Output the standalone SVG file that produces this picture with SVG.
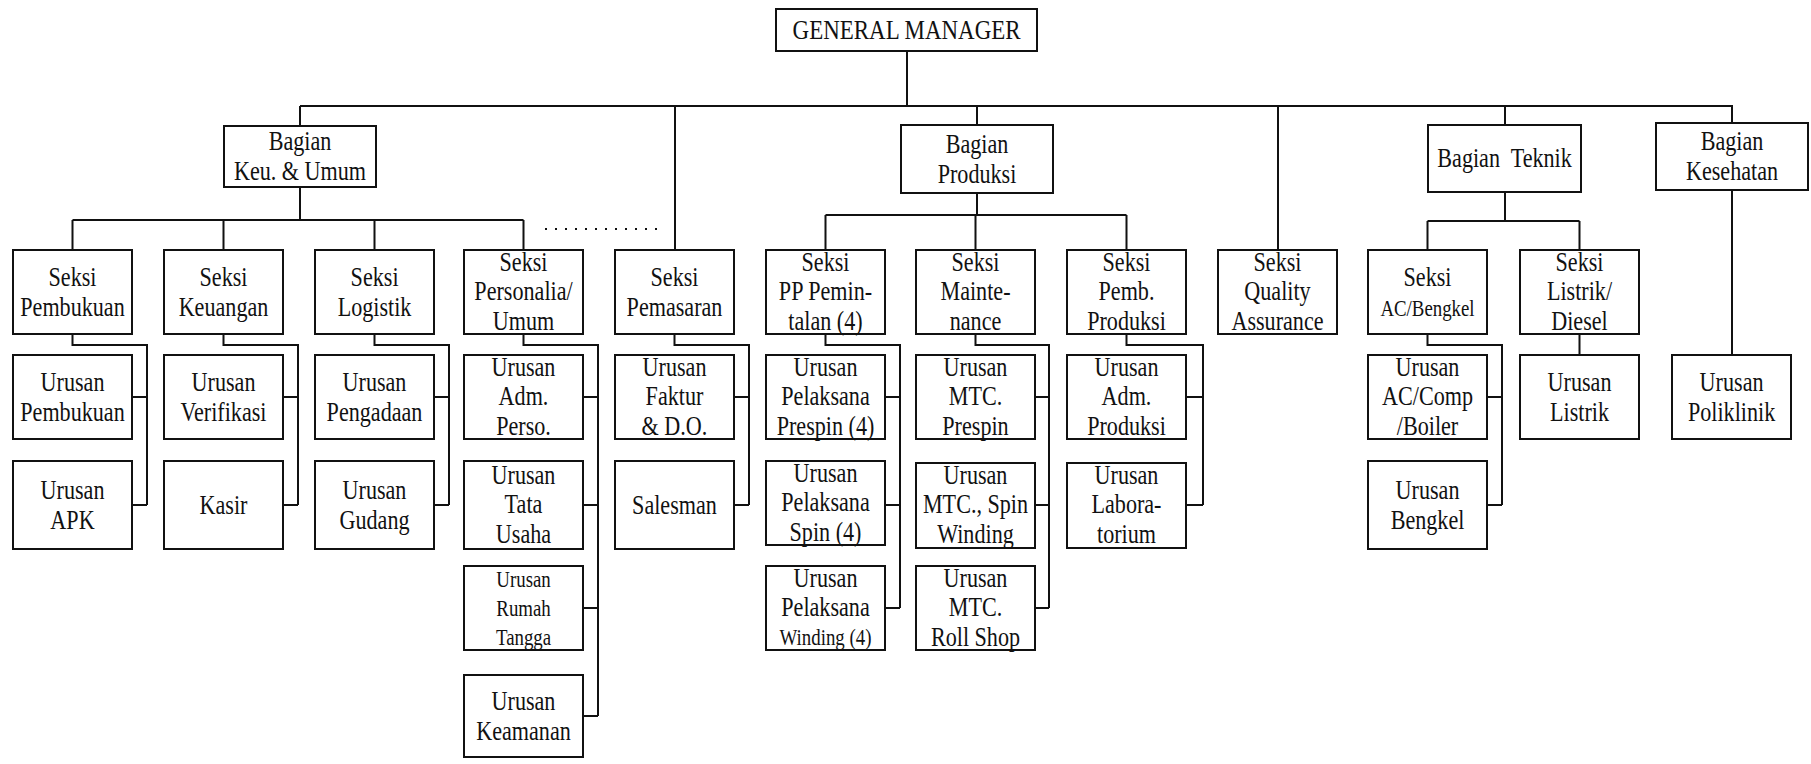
<svg xmlns="http://www.w3.org/2000/svg" width="1811" height="764" viewBox="0 0 1811 764">
<style>
  .box { fill: #fff; stroke: #111; stroke-width: 2; }
  .ln { fill: none; stroke: #111; stroke-width: 2; }
  .dot { fill: none; stroke: #111; stroke-width: 2; stroke-dasharray: 2 8; }
  .t { font-family: "Liberation Serif", "Times New Roman", serif; font-size: 27px; text-anchor: middle; fill: #111;
       transform-box: fill-box; transform-origin: center; transform: scaleX(0.82); }
  .s { font-size: 23px; }
  .big { font-size: 28px; }
</style>
<rect width="1811" height="764" fill="#fff"/>

<!-- connectors -->
<g id="connectors">
  <!-- general manager to bagian level -->
  <path class="ln" d="M907 51 V106 M300 106 H1733 M300 106 V126 M675 106 V250 M977 106 V125 M1278 106 V250 M1505 106 V125 M1732 106 V123"/>
  <!-- bagian keuangan & umum -->
  <path class="ln" d="M300 187 V220 M72.5 220 H523.5 M72.5 220 V250 M223.5 220 V250 M374.5 220 V250 M523.5 220 V250"/>
  <path class="dot" d="M545 229 H660"/>
  <!-- bagian produksi -->
  <path class="ln" d="M977 193 V215 M825.5 215 H1126.5 M825.5 215 V250 M975.5 215 V250 M1126.5 215 V250"/>
  <!-- bagian teknik -->
  <path class="ln" d="M1505 192 V221 M1427.5 221 H1579.5 M1427.5 221 V250 M1579.5 221 V250"/>
  <!-- bagian kesehatan / listrik direct links -->
  <path class="ln" d="M1732 190 V355 M1579.5 334 V355"/>
  <!-- seksi to urusan brackets -->
  <path class="ln" d="M72.5 334 V345 H147 V505 M132 397 H147 M132 505 H147"/>
  <path class="ln" d="M223.5 334 V345 H298 V505 M283 397 H298 M283 505 H298"/>
  <path class="ln" d="M374.5 334 V345 H449 V505 M434 397 H449 M434 505 H449"/>
  <path class="ln" d="M523.5 334 V345 H598 V716 M583 397 H598 M583 505 H598 M583 608 H598 M583 716 H598"/>
  <path class="ln" d="M674.5 334 V345 H749 V505 M734 397 H749 M734 505 H749"/>
  <path class="ln" d="M825.5 334 V345 H900 V608 M885 397 H900 M885 505 H900 M885 608 H900"/>
  <path class="ln" d="M975.5 334 V345 H1049 V608 M1035 397 H1049 M1035 505 H1049 M1035 608 H1049"/>
  <path class="ln" d="M1126.5 334 V345 H1203 V505 M1186 397 H1203 M1186 505 H1203"/>
  <path class="ln" d="M1427.5 334 V345 H1502 V505 M1487 397 H1502 M1487 505 H1502"/>
</g>

<!-- top -->
<g id="general-manager">
  <rect class="box" x="776" y="9" width="261" height="42"/>
  <text class="t big"><tspan x="906.5" y="39.5">GENERAL MANAGER</tspan></text>
</g>

<!-- bagian level -->
<g id="bagian-keu-umum">
  <rect class="box" x="224" y="126" width="152" height="61"/>
  <text class="t"><tspan x="300" y="150">Bagian</tspan><tspan x="300" y="180">Keu. &amp; Umum</tspan></text>
</g>
<g id="bagian-produksi">
  <rect class="box" x="901" y="125" width="152" height="68"/>
  <text class="t"><tspan x="977" y="153">Bagian</tspan><tspan x="977" y="183">Produksi</tspan></text>
</g>
<g id="bagian-teknik">
  <rect class="box" x="1428" y="125" width="153" height="67"/>
  <text class="t" style="white-space:pre"><tspan x="1504.5" y="167.5">Bagian  Teknik</tspan></text>
</g>
<g id="bagian-kesehatan">
  <rect class="box" x="1656" y="123" width="152" height="67"/>
  <text class="t"><tspan x="1732" y="150">Bagian</tspan><tspan x="1732" y="180">Kesehatan</tspan></text>
</g>

<!-- seksi level -->
<g id="seksi-pembukuan">
  <rect class="box" x="13" y="250" width="119" height="84"/>
  <text class="t"><tspan x="72.5" y="286">Seksi</tspan><tspan x="72.5" y="316">Pembukuan</tspan></text>
</g>
<g id="seksi-keuangan">
  <rect class="box" x="164" y="250" width="119" height="84"/>
  <text class="t"><tspan x="223.5" y="286">Seksi</tspan><tspan x="223.5" y="316">Keuangan</tspan></text>
</g>
<g id="seksi-logistik">
  <rect class="box" x="315" y="250" width="119" height="84"/>
  <text class="t"><tspan x="374.5" y="286">Seksi</tspan><tspan x="374.5" y="316">Logistik</tspan></text>
</g>
<g id="seksi-personalia">
  <rect class="box" x="464" y="250" width="119" height="84"/>
  <text class="t"><tspan x="523.5" y="271">Seksi</tspan><tspan x="523.5" y="300.5">Personalia/</tspan><tspan x="523.5" y="330">Umum</tspan></text>
</g>
<g id="seksi-pemasaran">
  <rect class="box" x="615" y="250" width="119" height="84"/>
  <text class="t"><tspan x="674.5" y="286">Seksi</tspan><tspan x="674.5" y="316">Pemasaran</tspan></text>
</g>
<g id="seksi-pp-pemintalan">
  <rect class="box" x="766" y="250" width="119" height="84"/>
  <text class="t"><tspan x="825.5" y="271">Seksi</tspan><tspan x="825.5" y="300.5">PP Pemin-</tspan><tspan x="825.5" y="330">talan (4)</tspan></text>
</g>
<g id="seksi-maintenance">
  <rect class="box" x="916" y="250" width="119" height="84"/>
  <text class="t"><tspan x="975.5" y="271">Seksi</tspan><tspan x="975.5" y="300.5">Mainte-</tspan><tspan x="975.5" y="330">nance</tspan></text>
</g>
<g id="seksi-pemb-produksi">
  <rect class="box" x="1067" y="250" width="119" height="84"/>
  <text class="t"><tspan x="1126.5" y="271">Seksi</tspan><tspan x="1126.5" y="300.5">Pemb.</tspan><tspan x="1126.5" y="330">Produksi</tspan></text>
</g>
<g id="seksi-quality-assurance">
  <rect class="box" x="1218" y="250" width="119" height="84"/>
  <text class="t"><tspan x="1277.5" y="271">Seksi</tspan><tspan x="1277.5" y="300.5">Quality</tspan><tspan x="1277.5" y="330">Assurance</tspan></text>
</g>
<g id="seksi-ac-bengkel">
  <rect class="box" x="1368" y="250" width="119" height="84"/>
  <text class="t"><tspan x="1427.5" y="286">Seksi</tspan><tspan class="s" x="1427.5" y="316">AC/Bengkel</tspan></text>
</g>
<g id="seksi-listrik-diesel">
  <rect class="box" x="1520" y="250" width="119" height="84"/>
  <text class="t"><tspan x="1579.5" y="271">Seksi</tspan><tspan x="1579.5" y="300.5">Listrik/</tspan><tspan x="1579.5" y="330">Diesel</tspan></text>
</g>

<!-- urusan: keuangan & umum -->
<g id="urusan-pembukuan">
  <rect class="box" x="13" y="355" width="119" height="84"/>
  <text class="t"><tspan x="72.5" y="391">Urusan</tspan><tspan x="72.5" y="421">Pembukuan</tspan></text>
</g>
<g id="urusan-apk">
  <rect class="box" x="13" y="461" width="119" height="88"/>
  <text class="t"><tspan x="72.5" y="499">Urusan</tspan><tspan x="72.5" y="529">APK</tspan></text>
</g>
<g id="urusan-verifikasi">
  <rect class="box" x="164" y="355" width="119" height="84"/>
  <text class="t"><tspan x="223.5" y="391">Urusan</tspan><tspan x="223.5" y="421">Verifikasi</tspan></text>
</g>
<g id="kasir">
  <rect class="box" x="164" y="461" width="119" height="88"/>
  <text class="t"><tspan x="223.5" y="514">Kasir</tspan></text>
</g>
<g id="urusan-pengadaan">
  <rect class="box" x="315" y="355" width="119" height="84"/>
  <text class="t"><tspan x="374.5" y="391">Urusan</tspan><tspan x="374.5" y="421">Pengadaan</tspan></text>
</g>
<g id="urusan-gudang">
  <rect class="box" x="315" y="461" width="119" height="88"/>
  <text class="t"><tspan x="374.5" y="499">Urusan</tspan><tspan x="374.5" y="529">Gudang</tspan></text>
</g>
<g id="urusan-adm-perso">
  <rect class="box" x="464" y="355" width="119" height="84"/>
  <text class="t"><tspan x="523.5" y="376">Urusan</tspan><tspan x="523.5" y="405.5">Adm.</tspan><tspan x="523.5" y="435">Perso.</tspan></text>
</g>
<g id="urusan-tata-usaha">
  <rect class="box" x="464" y="461" width="119" height="88"/>
  <text class="t"><tspan x="523.5" y="484">Urusan</tspan><tspan x="523.5" y="513.5">Tata</tspan><tspan x="523.5" y="543">Usaha</tspan></text>
</g>
<g id="urusan-rumah-tangga">
  <rect class="box" x="464" y="566" width="119" height="84"/>
  <text class="t s"><tspan x="523.5" y="587">Urusan</tspan><tspan x="523.5" y="616">Rumah</tspan><tspan x="523.5" y="645">Tangga</tspan></text>
</g>
<g id="urusan-keamanan">
  <rect class="box" x="464" y="675" width="119" height="82"/>
  <text class="t"><tspan x="523.5" y="710">Urusan</tspan><tspan x="523.5" y="740">Keamanan</tspan></text>
</g>

<!-- urusan: pemasaran -->
<g id="urusan-faktur">
  <rect class="box" x="615" y="355" width="119" height="84"/>
  <text class="t"><tspan x="674.5" y="376">Urusan</tspan><tspan x="674.5" y="405.5">Faktur</tspan><tspan x="674.5" y="435">&amp; D.O.</tspan></text>
</g>
<g id="salesman">
  <rect class="box" x="615" y="461" width="119" height="88"/>
  <text class="t"><tspan x="674.5" y="514">Salesman</tspan></text>
</g>

<!-- urusan: produksi -->
<g id="urusan-pelaksana-prespin">
  <rect class="box" x="766" y="355" width="119" height="84"/>
  <text class="t"><tspan x="825.5" y="376">Urusan</tspan><tspan x="825.5" y="405.5">Pelaksana</tspan><tspan x="825.5" y="435">Prespin (4)</tspan></text>
</g>
<g id="urusan-pelaksana-spin">
  <rect class="box" x="766" y="461" width="119" height="84"/>
  <text class="t"><tspan x="825.5" y="482">Urusan</tspan><tspan x="825.5" y="511.5">Pelaksana</tspan><tspan x="825.5" y="541">Spin (4)</tspan></text>
</g>
<g id="urusan-pelaksana-winding">
  <rect class="box" x="766" y="566" width="119" height="84"/>
  <text class="t"><tspan x="825.5" y="587">Urusan</tspan><tspan x="825.5" y="616.5">Pelaksana</tspan><tspan class="s" x="825.5" y="645">Winding (4)</tspan></text>
</g>
<g id="urusan-mtc-prespin">
  <rect class="box" x="916" y="355" width="119" height="84"/>
  <text class="t"><tspan x="975.5" y="376">Urusan</tspan><tspan x="975.5" y="405.5">MTC.</tspan><tspan x="975.5" y="435">Prespin</tspan></text>
</g>
<g id="urusan-mtc-spin-winding">
  <rect class="box" x="916" y="463" width="119" height="85"/>
  <text class="t"><tspan x="975.5" y="484">Urusan</tspan><tspan x="975.5" y="513.5">MTC., Spin</tspan><tspan x="975.5" y="543">Winding</tspan></text>
</g>
<g id="urusan-mtc-roll-shop">
  <rect class="box" x="916" y="566" width="119" height="84"/>
  <text class="t"><tspan x="975.5" y="587">Urusan</tspan><tspan x="975.5" y="616.5">MTC.</tspan><tspan x="975.5" y="646">Roll Shop</tspan></text>
</g>
<g id="urusan-adm-produksi">
  <rect class="box" x="1067" y="355" width="119" height="84"/>
  <text class="t"><tspan x="1126.5" y="376">Urusan</tspan><tspan x="1126.5" y="405.5">Adm.</tspan><tspan x="1126.5" y="435">Produksi</tspan></text>
</g>
<g id="urusan-laboratorium">
  <rect class="box" x="1067" y="463" width="119" height="85"/>
  <text class="t"><tspan x="1126.5" y="484">Urusan</tspan><tspan x="1126.5" y="513.5">Labora-</tspan><tspan x="1126.5" y="543">torium</tspan></text>
</g>

<!-- urusan: teknik & kesehatan -->
<g id="urusan-ac-comp-boiler">
  <rect class="box" x="1368" y="355" width="119" height="84"/>
  <text class="t"><tspan x="1427.5" y="376">Urusan</tspan><tspan x="1427.5" y="405.5">AC/Comp</tspan><tspan x="1427.5" y="435">/Boiler</tspan></text>
</g>
<g id="urusan-bengkel">
  <rect class="box" x="1368" y="461" width="119" height="88"/>
  <text class="t"><tspan x="1427.5" y="499">Urusan</tspan><tspan x="1427.5" y="529">Bengkel</tspan></text>
</g>
<g id="urusan-listrik">
  <rect class="box" x="1520" y="355" width="119" height="84"/>
  <text class="t"><tspan x="1579.5" y="391">Urusan</tspan><tspan x="1579.5" y="421">Listrik</tspan></text>
</g>
<g id="urusan-poliklinik">
  <rect class="box" x="1672" y="355" width="119" height="84"/>
  <text class="t"><tspan x="1731.5" y="391">Urusan</tspan><tspan x="1731.5" y="421">Poliklinik</tspan></text>
</g>
</svg>
